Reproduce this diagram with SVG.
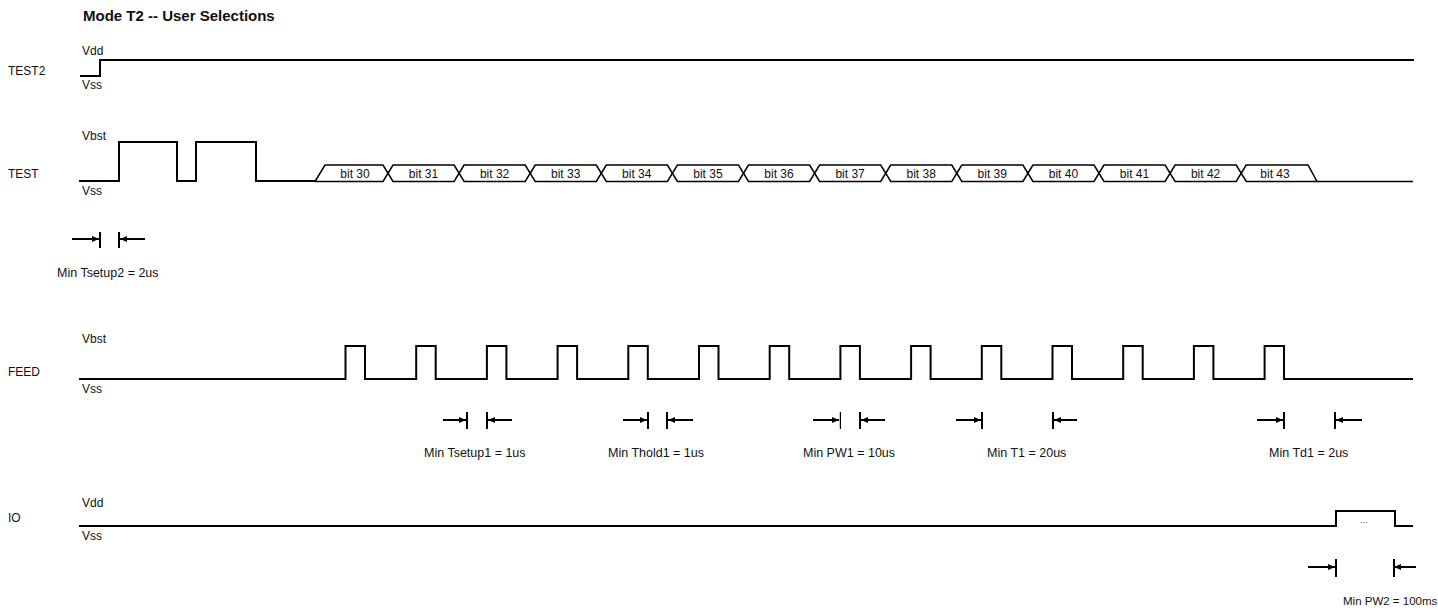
<svg xmlns="http://www.w3.org/2000/svg" width="1438" height="610" viewBox="0 0 1438 610">
<defs>
<marker id="ah" markerUnits="userSpaceOnUse" markerWidth="7" markerHeight="6" refX="7" refY="3" orient="auto">
<path d="M0,0 L7,3 L0,6 z" fill="#000"/>
</marker>
<style>
text{font-family:"Liberation Sans",Arial,sans-serif;fill:#111}
.title{font-size:15px;font-weight:bold}
.sig{font-size:12px}
.lvl{font-size:12px}
.bit{font-size:12px;text-anchor:middle}
.lab{font-size:12.5px}
.wave{fill:none;stroke:#000;stroke-width:2;stroke-linejoin:miter}
.box{fill:none;stroke:#000;stroke-width:1.5;stroke-linejoin:miter}
.arr{stroke:#000;stroke-width:2;marker-end:url(#ah)}
.bar{stroke:#000;stroke-width:2}
</style>
</defs>
<rect width="1438" height="610" fill="#fff"/>
<text class="title" x="83" y="21">Mode T2 -- User Selections</text>

<g id="sig-test2">
<text class="sig" x="8" y="75">TEST2</text>
<text class="lvl" x="82" y="55">Vdd</text>
<text class="lvl" x="82" y="89">Vss</text>
<path class="wave" d="M80,76 H100 V60 H1414"/>
</g>

<g id="sig-test">
<text class="sig" x="8" y="178">TEST</text>
<text class="lvl" x="82" y="140">Vbst</text>
<text class="lvl" x="82" y="195">Vss</text>
<path class="wave" d="M79,181 H119 V142 H177 V181 H196 V142 H256 V181 H315"/>
<g id="bits">
<path class="box" d="M315,181.5 L325,165 H383 L388,173.25 L383,181.5 H315"/>
<path class="box" d="M388,173.25 L393,165 H454.1 L459.1,173.25 L454.1,181.5 H393 Z"/>
<path class="box" d="M459.1,173.25 L464.1,165 H525.2 L530.2,173.25 L525.2,181.5 H464.1 Z"/>
<path class="box" d="M530.2,173.25 L535.2,165 H596.3 L601.3,173.25 L596.3,181.5 H535.2 Z"/>
<path class="box" d="M601.3,173.25 L606.3,165 H667.4 L672.4,173.25 L667.4,181.5 H606.3 Z"/>
<path class="box" d="M672.4,173.25 L677.4,165 H738.5 L743.5,173.25 L738.5,181.5 H677.4 Z"/>
<path class="box" d="M743.5,173.25 L748.5,165 H809.6 L814.6,173.25 L809.6,181.5 H748.5 Z"/>
<path class="box" d="M814.6,173.25 L819.6,165 H880.7 L885.7,173.25 L880.7,181.5 H819.6 Z"/>
<path class="box" d="M885.7,173.25 L890.7,165 H951.8 L956.8,173.25 L951.8,181.5 H890.7 Z"/>
<path class="box" d="M956.8,173.25 L961.8,165 H1022.9 L1027.9,173.25 L1022.9,181.5 H961.8 Z"/>
<path class="box" d="M1027.9,173.25 L1032.9,165 H1094 L1099,173.25 L1094,181.5 H1032.9 Z"/>
<path class="box" d="M1099,173.25 L1104,165 H1165.1 L1170.1,173.25 L1165.1,181.5 H1104 Z"/>
<path class="box" d="M1170.1,173.25 L1175.1,165 H1236.2 L1241.2,173.25 L1236.2,181.5 H1175.1 Z"/>
<path class="box" d="M1241.2,173.25 L1246.2,165 H1308 L1317,181.5 H1246.2 Z"/>
<path class="box" d="M1317,181.5 H1413"/>
<text class="bit" x="355" y="178">bit 30</text>
<text class="bit" x="423.5" y="178">bit 31</text>
<text class="bit" x="494.6" y="178">bit 32</text>
<text class="bit" x="565.7" y="178">bit 33</text>
<text class="bit" x="636.8" y="178">bit 34</text>
<text class="bit" x="707.9" y="178">bit 35</text>
<text class="bit" x="779" y="178">bit 36</text>
<text class="bit" x="850.1" y="178">bit 37</text>
<text class="bit" x="921.2" y="178">bit 38</text>
<text class="bit" x="992.3" y="178">bit 39</text>
<text class="bit" x="1063.4" y="178">bit 40</text>
<text class="bit" x="1134.5" y="178">bit 41</text>
<text class="bit" x="1205.6" y="178">bit 42</text>
<text class="bit" x="1275" y="178">bit 43</text>
</g>
</g>

<g id="sig-feed">
<text class="sig" x="8" y="376">FEED</text>
<text class="lvl" x="82" y="343">Vbst</text>
<text class="lvl" x="82" y="393">Vss</text>
<path class="wave" d="M79,379 H345.5 V346 H365 V379 H416.2 V346 H435.7 V379 H486.9 V346 H506.4 V379 H557.6 V346 H577.1 V379 H628.3 V346 H647.8 V379 H699 V346 H718.5 V379 H769.7 V346 H789.2 V379 H840.4 V346 H859.9 V379 H911.1 V346 H930.6 V379 H981.8 V346 H1001.3 V379 H1052.5 V346 H1072 V379 H1123.2 V346 H1142.7 V379 H1193.9 V346 H1213.4 V379 H1264.6 V346 H1284 V379 H1413"/>
</g>

<g id="sig-io">
<text class="sig" x="8" y="522">IO</text>
<text class="lvl" x="82" y="507">Vdd</text>
<text class="lvl" x="82" y="540">Vss</text>
<path class="wave" d="M79,526 H1336 V511 H1395 V526 H1413"/>
<text x="1364" y="523" style="font-size:9px;fill:#555;text-anchor:middle">...</text>
</g>

<g id="timing">
<g id="t-setup2">
<line class="arr" x1="72" y1="239" x2="99" y2="239"/>
<line class="bar" x1="100" y1="232" x2="100" y2="248"/>
<line class="bar" x1="119" y1="232" x2="119" y2="248"/>
<line class="arr" x1="145" y1="239" x2="120" y2="239"/>
<text class="lab" x="57" y="277">Min Tsetup2 = 2us</text>
</g>
<g id="t-setup1">
<line class="arr" x1="443" y1="420" x2="466" y2="420"/>
<line class="bar" x1="467" y1="412" x2="467" y2="429"/>
<line class="bar" x1="487" y1="412" x2="487" y2="429"/>
<line class="arr" x1="512" y1="420" x2="488" y2="420"/>
<text class="lab" x="424" y="457">Min Tsetup1 = 1us</text>
</g>
<g id="t-hold1">
<line class="arr" x1="623" y1="420" x2="647" y2="420"/>
<line class="bar" x1="648" y1="412" x2="648" y2="429"/>
<line class="bar" x1="667" y1="412" x2="667" y2="429"/>
<line class="arr" x1="693" y1="420" x2="668" y2="420"/>
<text class="lab" x="608" y="457">Min Thold1 = 1us</text>
</g>
<g id="t-pw1">
<line class="arr" x1="813" y1="420" x2="839" y2="420"/>
<line class="bar" x1="840.4" y1="412" x2="840.4" y2="429" style="stroke-width:1.2"/>
<line class="bar" x1="860" y1="412" x2="860" y2="429"/>
<line class="arr" x1="885" y1="420" x2="861" y2="420"/>
<text class="lab" x="803" y="457">Min PW1 = 10us</text>
</g>
<g id="t-t1">
<line class="arr" x1="956" y1="420" x2="981" y2="420"/>
<line class="bar" x1="982" y1="412" x2="982" y2="429"/>
<line class="bar" x1="1053" y1="412" x2="1053" y2="429"/>
<line class="arr" x1="1077" y1="420" x2="1054" y2="420"/>
<text class="lab" x="987" y="457">Min T1 = 20us</text>
</g>
<g id="t-d1">
<line class="arr" x1="1257" y1="420" x2="1283" y2="420"/>
<line class="bar" x1="1284" y1="412" x2="1284" y2="429"/>
<line class="bar" x1="1335" y1="412" x2="1335" y2="429"/>
<line class="arr" x1="1362" y1="420" x2="1336" y2="420"/>
<text class="lab" x="1269" y="457">Min Td1 = 2us</text>
</g>
<g id="t-pw2">
<line class="arr" x1="1308" y1="567" x2="1335" y2="567"/>
<line class="bar" x1="1336" y1="559" x2="1336" y2="577"/>
<line class="bar" x1="1394" y1="559" x2="1394" y2="577"/>
<line class="arr" x1="1416" y1="567" x2="1394" y2="567"/>
<text class="lab" x="1343" y="605" style="font-size:11.5px">Min PW2 = 100ms</text>
</g>
</g>
</svg>
